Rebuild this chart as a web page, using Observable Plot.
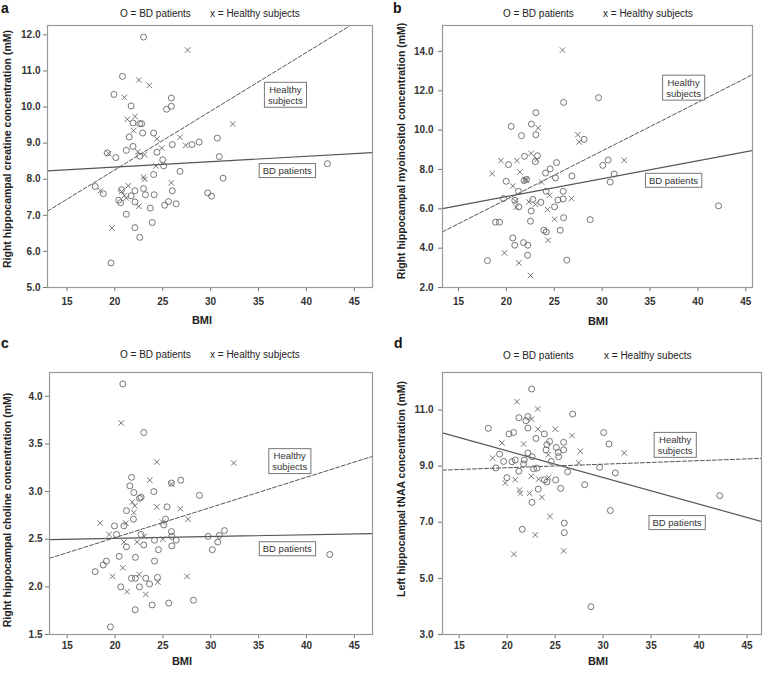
<!DOCTYPE html>
<html><head><meta charset="utf-8">
<script src="https://cdn.jsdelivr.net/npm/d3@7"></script>
<script src="https://cdn.jsdelivr.net/npm/@observablehq/plot@0.6"></script>
<style>
body{margin:0;background:#fff;font-family:"Liberation Sans",Arial,sans-serif;}
#root{position:relative;width:763px;height:673px;overflow:hidden;background:#fff;}
#root > svg{position:absolute;}
</style></head><body><div id="root"></div>
<script>
// ---------- data ----------
const xTicks = [15, 20, 25, 30, 35, 40, 45];
const yTicksA = [5, 6, 7, 8, 9, 10, 11, 12];
const yTicksB = [2, 4, 6, 8, 10, 12, 14];
const yTicksC = [1.5, 2.0, 2.5, 3.0, 3.5, 4.0];
const yTicksD = [3, 5, 7, 9, 11];

// Panel a: creatine
const aBdBmi = [23.0,20.8,19.9,21.7,25.9,25.9,25.4,21.9,22.6,22.8,22.9,24.05,21.5,21.9,21.2,19.2,20.1,24.4,26.0,28.05,28.8,30.7,30.9,25.0,25.1,24.05,26.8,31.3,42.2,23.0,23.2,24.1,26.0,22.1,20.7,17.95,18.8,21.7,20.4,20.6,22.1,25.6,25.2,26.4,29.7,30.1,21.2,23.7,22.1,23.9,22.6,19.6,22.6];
const aBdVal = [11.94,10.85,10.35,10.03,10.25,10.02,9.94,9.56,9.54,9.54,9.28,9.28,9.17,8.91,8.80,8.73,8.60,8.75,8.96,8.96,9.03,9.14,8.63,8.54,8.37,8.13,8.22,8.03,8.43,7.74,7.57,7.57,7.68,7.68,7.71,7.80,7.60,7.54,7.42,7.35,7.37,7.38,7.28,7.32,7.62,7.53,7.03,7.20,6.66,6.80,6.39,5.68,8.64];
const aHsBmi = [27.6,22.5,23.6,21.0,21.3,22.1,21.96,24.4,24.9,22.4,23.1,24.3,26.8,27.4,32.3,23.0,23.1,25.9,21.4,20.7,21.0,21.2,18.5,22.5,19.7,19.35];
const aHsVal = [11.58,10.75,10.60,10.27,9.66,9.74,9.35,9.12,8.86,8.76,8.68,8.37,9.16,8.94,9.53,8.06,8.00,7.90,7.82,7.66,7.55,7.48,7.68,7.25,6.65,8.71];

// Panel b: myoinositol
const bBdBmi = [25.97,29.62,23.08,22.62,20.5,23.08,21.58,28.12,21.89,23.25,23.01,20.22,25.24,24.57,24.09,25.13,26.84,19.98,21.86,22.1,21.27,24.16,25.93,19.7,20.88,21.3,22.76,23.6,25.03,25.38,25.93,22.59,22.52,25.97,28.75,18.87,19.28,23.91,24.16,25.62,20.67,20.88,21.79,22.24,22.21,18.03,26.31,30.63,30.07,30.84,31.26,42.15];
const bBdVal = [11.41,11.65,10.89,10.31,10.19,9.77,9.72,9.53,8.67,8.70,8.40,8.25,8.35,8.03,7.82,7.57,7.67,7.40,7.43,7.50,6.89,6.89,6.89,6.52,6.43,6.10,6.48,6.33,6.10,6.45,6.50,5.89,5.37,5.55,5.45,5.32,5.32,4.91,4.83,4.91,4.52,4.15,4.28,4.15,3.64,3.37,3.39,8.48,8.21,7.36,7.77,6.15];
const bHsBmi = [25.86,23.32,27.46,27.6,22.59,19.42,21.09,18.52,23.18,21.41,20.67,21.96,22.07,23.67,20.95,21.02,22.35,23.04,24.5,26.8,24.3,25.03,24.36,19.8,21.3,22.52,32.3];
const bHsVal = [14.07,10.11,9.77,9.40,8.82,8.45,8.45,7.79,8.50,7.87,7.16,7.50,7.45,7.36,6.40,6.08,6.35,6.23,6.69,6.52,5.96,5.47,4.40,3.76,3.25,2.61,8.47];

// Panel c: choline
const cBdBmi = [20.81,23.0,21.72,21.54,21.96,22.72,22.55,25.89,26.87,24.05,28.82,21.19,25.44,21.92,20.92,19.94,20.15,25.27,25.09,22.72,25.89,26.38,25.93,24.12,23.0,24.53,25.93,21.19,29.72,30.73,30.17,30.9,31.43,20.43,22.13,24.12,19.1,18.76,17.92,21.72,22.13,23.21,24.43,23.6,22.55,20.6,22.1,23.87,25.61,28.19,19.52,42.43];
const cBdVal = [4.13,3.62,3.15,3.06,2.99,2.94,2.93,3.09,3.12,3.00,2.96,2.80,2.84,2.71,2.64,2.64,2.55,2.71,2.65,2.55,2.58,2.49,2.53,2.49,2.44,2.39,2.43,2.42,2.53,2.47,2.39,2.54,2.59,2.32,2.31,2.27,2.27,2.23,2.16,2.09,2.09,2.09,2.10,2.03,2.00,2.00,1.76,1.81,1.83,1.86,1.58,2.34];
const cHsBmi = [20.64,24.36,23.63,25.89,24.36,26.83,27.63,21.79,22.06,21.96,18.44,21.12,24.95,19.38,20.92,22.31,23.07,24.99,20.81,19.73,22.52,24.47,27.53,21.26,23.21,32.4];
const cHsVal = [3.72,3.31,3.12,3.08,2.84,2.82,2.71,2.89,2.85,2.78,2.67,2.67,2.68,2.55,2.47,2.47,2.53,2.50,2.20,2.11,2.13,2.05,2.11,1.95,1.92,3.30];

// Panel d: tNAA
const dBdBmi = [22.55,26.82,18.03,21.22,22.16,21.95,20.18,20.67,22.16,23.0,23.87,24.42,24.14,25.12,25.88,24.04,25.33,25.88,25.36,24.6,19.21,19.63,20.5,20.84,21.78,21.71,22.16,22.6,22.75,23.1,21.22,18.83,19.97,26.3,25.05,24.14,23.87,23.24,25.57,22.58,28.07,29.64,30.05,30.61,31.27,30.75,25.95,25.95,21.57,28.73,42.15];
const dBdVal = [11.75,10.86,10.35,10.73,10.77,10.62,10.15,10.20,10.36,9.99,10.15,9.88,9.77,9.67,9.85,9.58,9.49,9.58,9.34,9.17,9.43,9.17,9.16,9.22,9.22,9.08,9.47,9.34,8.91,8.93,8.82,8.94,8.59,8.80,8.51,8.44,8.51,8.18,8.21,7.71,8.34,8.96,10.20,9.79,8.76,7.42,6.97,6.63,6.75,3.99,7.95];
const dHsBmi = [21.02,23.17,22.55,25.01,26.75,23.21,19.45,21.71,18.48,27.62,27.45,24.28,22.51,23.28,24.32,20.84,19.8,21.29,21.36,22.34,23.62,24.46,22.93,25.88,20.7,32.2];
const dHsVal = [11.30,11.04,10.68,10.32,10.09,10.32,9.83,9.79,9.29,9.53,9.12,9.41,8.64,8.54,8.60,8.52,8.40,8.15,8.03,8.03,7.89,7.21,6.55,5.98,5.86,9.47];

// fitted regression lines (intercept, slope) per panel a..d
const bdIntercept = [8.034, 4.791, 2.472, 11.451];
const bdSlope = [0.01504, 0.0914, 0.00187, -0.0951];
const hsIntercept = [5.005, 1.540, 1.883, 8.693];
const hsSlope = [0.1627, 0.2468, 0.0317, 0.0126];

// text
const panelLetters = ["a", "b", "c", "d"];
const yLabels = [
  "Right hippocampal creatine concentration (mM)",
  "Right hippocampal myoinositol concentration (mM)",
  "Right hippocampal choline concentration (mM)",
  "Left hippocampal tNAA concentration (mM)"
];
const xLabel = "BMI";
const legendBd = ["O = BD patients", "O = BD patients", "O = BD patients", "O = BD patients"];
const legendHs = ["x = Healthy subjects", "x = Healthy subjects", "x = Healthy subjects", "x = Healthy subects"];
const boxHsText = "Healthy\nsubjects";
const boxBdText = "BD patients";
// annotation anchors (data coordinates)
const boxHsBmi = [37.8, 38.5, 38.25, 37.5];
const boxHsVal = [10.34, 12.16, 3.32, 9.76];
const boxBdBmi = [38.0, 37.45, 38.0, 37.7];
const boxBdVal = [8.24, 7.45, 2.40, 6.99];

// ---------- layout ----------
const layout = [
  {left: 0, top: 0, width: 380, height: 330, ml: 47, mr: 8, mt: 25, mb: 43, xd: [12.97, 46.9], yd: [5, 12.26], yt: yTicksA, tp: 3, xtp: 6,
   letter: [1, 12.5], legend: [120, 210, 17], ylab: [10.5, 149], xlab: [202, 324]},
  {left: 380, top: 0, width: 383, height: 330, ml: 62, mr: 11, mt: 25, mb: 43, xd: [13.33, 45.7], yd: [2, 15.32], yt: yTicksB, tp: 5, xtp: 6,
   letter: [393, 13], legend: [503, 603, 17], ylab: [405, 151], xlab: [598, 325]},
  {left: 0, top: 330, width: 380, height: 343, ml: 49, mr: 8, mt: 42, mb: 39, xd: [13.15, 46.9], yd: [1.5, 4.25], yt: yTicksC, tp: 3, xtp: 3,
   letter: [1, 348], legend: [120, 210, 357.5], ylab: [10.5, 510], xlab: [182, 665]},
  {left: 380, top: 330, width: 383, height: 343, ml: 62, mr: 2, mt: 42, mb: 39, xd: [13.26, 46.5], yd: [3, 12.34], yt: yTicksD, tp: 5, xtp: 3,
   letter: [394, 348], legend: [503, 604, 358.5], ylab: [405, 489], xlab: [598, 665]}
];
const series = [
  [aBdBmi, aBdVal, aHsBmi, aHsVal],
  [bBdBmi, bBdVal, bHsBmi, bHsVal],
  [cBdBmi, cBdVal, cHsBmi, cHsVal],
  [dBdBmi, dBdVal, dHsBmi, dHsVal]
];

const root = document.getElementById("root");
const markColor = "#666";
const font = "'Liberation Sans', Arial, sans-serif";

layout.forEach((L, i) => {
  const [bdX, bdY, hsX, hsY] = series[i];
  const bd = bdX.map((x, k) => ({bmi: x, v: bdY[k]}));
  const hs = hsX.map((x, k) => ({bmi: x, v: hsY[k]}));
  const bdLine = L.xd.map(x => ({bmi: x, v: bdIntercept[i] + bdSlope[i] * x}));
  const hsLine = L.xd.map(x => ({bmi: x, v: hsIntercept[i] + hsSlope[i] * x}));
  const boxes = [
    {bmi: boxHsBmi[i], v: boxHsVal[i], t: boxHsText},
    {bmi: boxBdBmi[i], v: boxBdVal[i], t: boxBdText}
  ];
  const chart = Plot.plot({
    width: L.width, height: L.height,
    marginLeft: L.ml, marginRight: L.mr, marginTop: L.mt, marginBottom: L.mb,
    style: {fontFamily: font, background: "transparent", overflow: "visible"},
    x: {domain: L.xd},
    y: {domain: L.yd},
    marks: [
      Plot.axisX({ticks: xTicks, tickSize: 4, tickPadding: L.xtp, label: null, stroke: "#777",
                  fontSize: 10, fontWeight: "bold", fill: "#333", tickFormat: d => String(d)}),
      Plot.axisY({ticks: L.yt, tickSize: 4, tickPadding: L.tp, label: null, stroke: "#777",
                  fontSize: 10, fontWeight: "bold", fill: "#333", tickFormat: d => d.toFixed(1)}),
      Plot.line(hsLine, {x: "bmi", y: "v", stroke: "#555", strokeWidth: 1, strokeDasharray: "4,2", clip: true}),
      Plot.line(bdLine, {x: "bmi", y: "v", stroke: "#555", strokeWidth: 1.2, clip: true}),
      Plot.dot(bd, {x: "bmi", y: "v", r: 3, symbol: "circle", stroke: markColor, strokeWidth: 0.9, fill: "none"}),
      Plot.dot(hs, {x: "bmi", y: "v", r: 2.6, symbol: "times", stroke: markColor, strokeWidth: 0.9}),
      Plot.text(boxes, {x: "bmi", y: "v", text: "t", fontSize: 9.5, fill: "#333", lineHeight: 1.15}),
      Plot.frame({stroke: "#999", strokeWidth: 1.2})
    ]
  });
  chart.style.left = L.left + "px";
  chart.style.top = L.top + "px";
  root.appendChild(chart);
  // draw boxes behind the annotation texts
  chart.querySelectorAll('g[aria-label="text"] text').forEach(t => {
    const bb = t.getBBox();
    const r = document.createElementNS("http://www.w3.org/2000/svg", "rect");
    r.setAttribute("x", bb.x - 3.5);
    r.setAttribute("y", bb.y - 1.5);
    r.setAttribute("width", bb.width + 7);
    r.setAttribute("height", bb.height + 3);
    r.setAttribute("fill", "#fff");
    r.setAttribute("stroke", "#777");
    r.setAttribute("stroke-width", "1");
    const tr = t.getAttribute("transform");
    if (tr) r.setAttribute("transform", tr);
    t.parentNode.insertBefore(r, t);
  });
});

// overlay for letters, legends and axis titles
const ov = d3.select(root).append("svg")
  .attr("width", 763).attr("height", 673)
  .style("left", "0px").style("top", "0px")
  .style("font-family", font);
layout.forEach((L, i) => {
  ov.append("text").attr("x", L.letter[0]).attr("y", L.letter[1])
    .attr("font-size", 14).attr("font-weight", "bold").attr("fill", "#111").text(panelLetters[i]);
  ov.append("text").attr("x", L.legend[0]).attr("y", L.legend[2])
    .attr("font-size", 10).attr("fill", "#222").text(legendBd[i]);
  ov.append("text").attr("x", L.legend[1]).attr("y", L.legend[2])
    .attr("font-size", 10).attr("fill", "#222").text(legendHs[i]);
  ov.append("text").attr("transform", `translate(${L.ylab[0]},${L.ylab[1]}) rotate(-90)`)
    .attr("text-anchor", "middle").attr("font-size", 10.5).attr("font-weight", "bold").attr("fill", "#222")
    .text(yLabels[i]);
  ov.append("text").attr("x", L.xlab[0]).attr("y", L.xlab[1]).attr("text-anchor", "middle")
    .attr("font-size", 11).attr("font-weight", "bold").attr("fill", "#222").text(xLabel);
});
</script></body></html>
